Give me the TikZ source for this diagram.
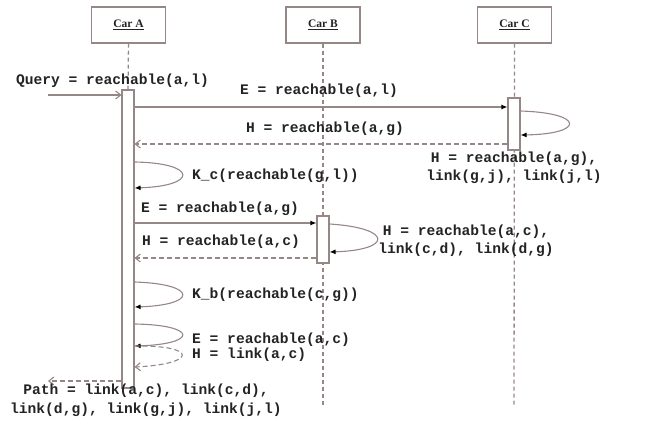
\documentclass[tikz,border=0pt]{standalone}
\usepackage{fontspec}
\setmainfont{Liberation Serif}
\newfontfamily\codefont{Liberation Mono}
\usetikzlibrary{arrows.meta}
\definecolor{lin}{RGB}{150,135,135}
\definecolor{txt}{RGB}{35,35,35}
\begin{document}
\begin{tikzpicture}[x=1pt,y=-1pt,
  carbox/.style={draw=lin,line width=1.1pt,minimum width=74pt,minimum height=36pt,inner sep=0pt,font=\fontsize{11.5}{13}\selectfont\bfseries,text=txt},
  bar/.style={draw=lin,fill=white,line width=1.1pt,minimum width=12pt,inner sep=0pt},
  life/.style={draw=lin,line width=1.3pt,dash pattern=on 4pt off 3pt},
  msg/.style={draw=lin,line width=1.1pt,-{Latex[length=6pt,width=5pt,black]}},
  ret/.style={draw=lin,line width=1.1pt,dash pattern=on 5pt off 3pt,-{Straight Barb[length=5pt,width=8pt]}},
  inmsg/.style={draw=lin,line width=1.1pt,-{Straight Barb[length=5pt,width=8pt]}},
  lbl/.style={font=\codefont\bfseries\fontsize{14.6}{18.5}\selectfont,text=txt,inner sep=0pt,align=center}
]
\useasboundingbox (0,0) rectangle (662,428);
% heads
\node[carbox] (A) at (128.5,25) {\underline{Car A}};
\node[carbox] (B) at (323,25) {\underline{Car B}};
\node[carbox] (C) at (514.5,25) {\underline{Car C}};
% lifelines
\coordinate (Bend) at (323,405);
\coordinate (Cend) at (514,405);
\draw[life] (A.south) -- (128,90);
\draw[life] (B.south) -- (Bend);
\draw[life] (C.south) -- (Cend);
% activation bars
\node[bar,minimum height=298pt] (actA) at (128,239) {};
\node[bar,minimum height=47pt] (actB) at (323,239.5) {};
\node[bar,minimum height=52pt] (actC) at (514,124) {};
% query
\coordinate (qs) at (48,95);
\draw[inmsg] (qs) -- (actA.west |- qs);
\node[lbl] (tq) at (112.5,81) {Query = reachable(a,l)};
% E to C
\draw[msg] (actA.east |- 0,107) -- (actC.west |- 0,107);
\node[lbl] (te1) at (319,91) {E = reachable(a,l)};
\draw[msg] (actC.east |- 0,111) .. controls (585,113) and (585,134) .. (actC.east |- 0,135);
\draw[ret] (actC.west |- 0,144) -- (actA.east |- 0,144);
\node[lbl] (th1) at (325,129) {H = reachable(a,g)};
\node[lbl] (thc) at (514,168) {H = reachable(a,g),\\link(g,j), link(j,l)};
% K_c
\draw[msg] (actA.east |- 0,162) .. controls (198,163) and (198,186) .. (actA.east |- 0,188);
\node[lbl,anchor=west] (tkc) at (192,176) {K\_c(reachable(g,l))};
% E to B
\draw[msg] (actA.east |- 0,223) -- (actB.west |- 0,223);
\node[lbl] (te2) at (220,209) {E = reachable(a,g)};
\draw[msg] (actB.east |- 0,224) .. controls (393,228) and (393,250) .. (actB.east |- 0,252);
\draw[ret] (actB.west |- 0,258) -- (actA.east |- 0,258);
\node[lbl] (th2) at (221,242) {H = reachable(a,c)};
\node[lbl] (thb) at (466,241) {H = reachable(a,c),\\link(c,d), link(d,g)};
% K_b
\draw[msg] (actA.east |- 0,282) .. controls (198,284) and (198,305) .. (actA.east |- 0,307);
\node[lbl,anchor=west] (tkb) at (192,295) {K\_b(reachable(c,g))};
% E/H self
\draw[msg] (actA.east |- 0,324) .. controls (198,325) and (198,344) .. (actA.east |- 0,346);
\draw[ret] (actA.east |- 0,346) .. controls (198,345) and (198,364) .. (actA.east |- 0,367);
\node[lbl,anchor=west] (te3) at (192,340) {E = reachable(a,c)};
\node[lbl,anchor=west] (th3) at (192,355) {H = link(a,c)};
% Path
\coordinate (pe) at (48,381);
\draw[ret] (actA.west |- pe) -- (pe);
\node[lbl] (tp) at (146,400.5) {Path = link(a,c), link(c,d),\\link(d,g), link(g,j), link(j,l)};
\end{tikzpicture}
\end{document}
